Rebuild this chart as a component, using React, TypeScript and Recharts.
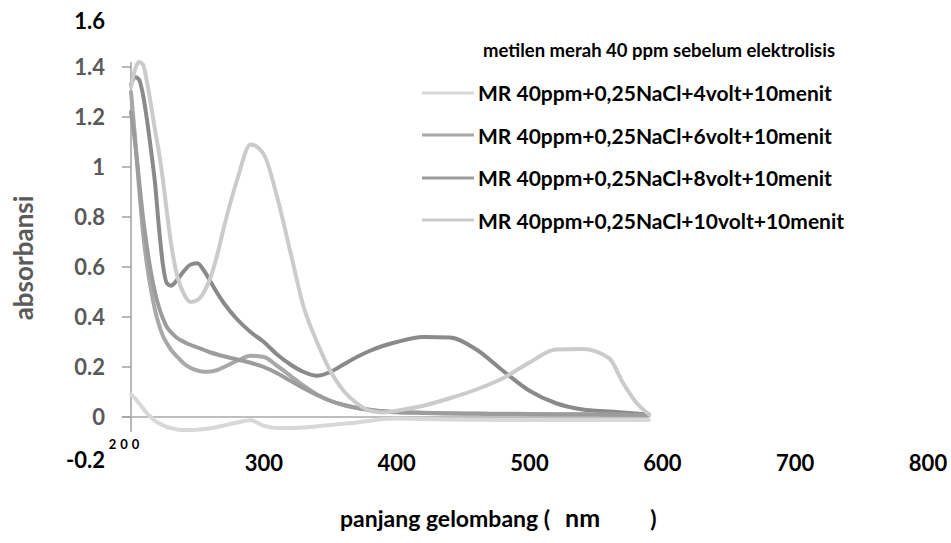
import { LineChart, Line, XAxis, YAxis, Legend, ReferenceLine } from 'recharts';

const FONT = 'Lato, "Open Sans", sans-serif';

// wavelength grid (nm)
const wavelengths = [
  200, 203, 206, 209, 212, 215, 218, 221, 224, 227, 230,
  235, 240, 245, 250, 255, 260, 265, 270,
  280, 290, 300, 310, 320, 330, 340, 350, 360, 370, 380, 390, 400,
  420, 440, 460, 480, 500, 520, 540, 560, 570, 580, 590,
];

const sebelum = [
  1.33, 1.36, 1.35, 1.29, 1.19, 1.07, 0.94, 0.76, 0.61, 0.535, 0.525,
  0.55, 0.585, 0.61, 0.615, 0.585, 0.54, 0.495, 0.455,
  0.39, 0.34, 0.3, 0.25, 0.21, 0.18, 0.165, 0.18, 0.21, 0.24, 0.265, 0.285, 0.3,
  0.32, 0.318, 0.27, 0.185, 0.105, 0.055, 0.03, 0.022, 0.018, 0.014, 0.01,
];

const volt4 = [
  0.09, 0.075, 0.055, 0.035, 0.015, 0, -0.015, -0.025, -0.033, -0.04, -0.044,
  -0.05, -0.052, -0.052, -0.051, -0.048, -0.045, -0.04, -0.034,
  -0.022, -0.013, -0.035, -0.044, -0.044, -0.042, -0.037, -0.032, -0.027, -0.022, -0.015, -0.008, -0.006,
  -0.008, -0.01, -0.011, -0.012, -0.012, -0.012, -0.012, -0.012, -0.012, -0.012, -0.012,
];

const volt6 = [
  1.3, 1.12, 0.92, 0.74, 0.61, 0.51, 0.43, 0.37, 0.325, 0.295, 0.27,
  0.24, 0.213, 0.196, 0.186, 0.181, 0.182, 0.188, 0.2,
  0.225, 0.245, 0.24, 0.205, 0.165, 0.125, 0.09, 0.065, 0.048, 0.036, 0.028, 0.022, 0.019,
  0.016, 0.014, 0.013, 0.012, 0.011, 0.01, 0.01, 0.009, 0.009, 0.008, 0.008,
];

const volt8 = [
  1.22, 1.1, 0.95, 0.8, 0.68, 0.58, 0.5, 0.44, 0.395, 0.36, 0.34,
  0.315, 0.3, 0.288, 0.278, 0.268, 0.258, 0.25, 0.243,
  0.23, 0.217, 0.2, 0.175, 0.145, 0.115, 0.088, 0.065, 0.048, 0.037, 0.029, 0.023, 0.02,
  0.017, 0.015, 0.014, 0.013, 0.012, 0.011, 0.011, 0.01, 0.01, 0.009, 0.009,
];

const volt10 = [
  1.32, 1.39, 1.42, 1.41, 1.34, 1.25, 1.15, 1.06, 0.95, 0.82, 0.7,
  0.56, 0.49, 0.46, 0.468, 0.5, 0.56, 0.65, 0.76,
  0.95, 1.09, 1.05, 0.88, 0.66, 0.44, 0.3, 0.185, 0.105, 0.055, 0.025, 0.018, 0.025,
  0.045, 0.075, 0.11, 0.155, 0.218, 0.27, 0.272, 0.235, 0.14, 0.06, 0.01,
];

const seriesNames = [
  'metilen merah 40 ppm sebelum elektrolisis',
  'MR 40ppm+0,25NaCl+4volt+10menit',
  'MR 40ppm+0,25NaCl+6volt+10menit',
  'MR 40ppm+0,25NaCl+8volt+10menit',
  'MR 40ppm+0,25NaCl+10volt+10menit',
];
const seriesKeys = ['sebelum', 'v4', 'v6', 'v8', 'v10'];
const seriesColors = ['#8a8a8a', '#d8d8d8', '#a8a8a8', '#9c9c9c', '#cbcbcb'];

const xTicks = [200, 300, 400, 500, 600, 700, 800];
const yTicks = [-0.2, 0, 0.2, 0.4, 0.6, 0.8, 1, 1.2, 1.4, 1.6];

const data = wavelengths.map((nm, i) => ({
  nm,
  sebelum: sebelum[i],
  v4: volt4[i],
  v6: volt6[i],
  v8: volt8[i],
  v10: volt10[i],
}));

function XTick({ x, y, payload }: any) {
  if (payload.value === 200) {
    return (
      <text x={x - 5} y={y - 18} textAnchor="middle" fontSize={13} fontWeight={700}
        letterSpacing={4} fontFamily={FONT} fill="#000">
        200
      </text>
    );
  }
  return (
    <text x={x} y={y + 4} textAnchor="middle" fontSize={22} fontWeight={700}
      fontFamily={FONT} fill="#000">
      {payload.value}
    </text>
  );
}

function YTick({ x, y, payload }: any) {
  const v = payload.value;
  if (v === -0.2 || v === 1.6) {
    return (
      <text x={x - 26} y={v === 1.6 ? y + 12 : y + 1} textAnchor="end" fontSize={22}
        fontWeight={700} fontFamily={FONT} fill="#000">
        {String(v)}
      </text>
    );
  }
  return (
    <g>
      <line x1={x - 9} y1={y} x2={x} y2={y} stroke="#a0a0a0" strokeWidth={1.5} />
      <text x={x - 26} y={y + 8} textAnchor="end" fontSize={22} fontWeight={700}
        fontFamily={FONT} fill="#5a5a5a">
        {String(v)}
      </text>
    </g>
  );
}

function YLabel({ viewBox }: any) {
  const tx = viewBox.x - 38;
  const ty = viewBox.y + viewBox.height / 2 + 16;
  return (
    <text transform={`translate(${tx}, ${ty}) rotate(-90)`} textAnchor="middle"
      fontSize={26} fontWeight={700} fontFamily={FONT} fill="#5a5a5a">
      absorbansi
    </text>
  );
}

function XLabel({ viewBox }: any) {
  return (
    <text x={viewBox.x + 209} y={viewBox.y + 60} fontSize={23} fontWeight={700}
      fontFamily={FONT} fill="#000">
      <tspan>panjang gelombang (</tspan>
      <tspan dx={15} fontSize={25}>nm</tspan>
      <tspan dx={50}>)</tspan>
    </text>
  );
}

function LegendContent({ payload }: any) {
  const items = [...(payload || [])].sort(
    (a: any, b: any) => seriesNames.indexOf(a.value) - seriesNames.indexOf(b.value),
  );
  return (
    <div style={{ fontFamily: FONT, fontWeight: 700, color: '#000' }}>
      {items.map((entry: any, i: number) => (
        <div key={entry.value} style={{ display: 'flex', alignItems: 'center', height: 42.5 }}>
          <svg width={52} height={6} style={{ marginRight: 4, visibility: i === 0 ? 'hidden' : 'visible' }}>
            <line x1={0} y1={3} x2={52} y2={3} stroke={entry.color} strokeWidth={3} />
          </svg>
          <span style={{ fontSize: i === 0 ? 18.5 : 21, marginLeft: i === 0 ? 5 : 0, whiteSpace: 'nowrap' }}>
            {entry.value}
          </span>
        </div>
      ))}
    </div>
  );
}

export default function App() {
  return (
    <div style={{ width: 951, height: 543, boxSizing: 'border-box', padding: '8px 0 0 8px', background: '#fff' }}>
      <style>{'body { margin: 0; } .recharts-surface { overflow: visible; }'}</style>
      <LineChart
        width={943}
        height={527}
        data={data}
        margin={{ top: 9, right: 23, left: 63, bottom: 38 }}
        style={{ fontFamily: FONT }}
      >
        <XAxis
          dataKey="nm"
          type="number"
          domain={[200, 800]}
          ticks={xTicks}
          axisLine={false}
          tickLine={false}
          tickSize={0}
          tickMargin={0}
          height={30}
          tick={<XTick />}
          interval={0}
          label={{ content: XLabel }}
        />
        <YAxis
          type="number"
          domain={[-0.2, 1.6]}
          ticks={yTicks}
          allowDataOverflow
          axisLine={false}
          tickLine={false}
          tickSize={0}
          tickMargin={0}
          width={60}
          tick={<YTick />}
          interval={0}
          label={{ content: YLabel }}
        />
        <ReferenceLine
          segment={[{ x: 200, y: -0.06 }, { x: 200, y: 1.42 }]}
          stroke="#a0a0a0"
          strokeWidth={1.5}
          ifOverflow="visible"
        />
        <ReferenceLine
          segment={[{ x: 193, y: 0 }, { x: 590, y: 0 }]}
          stroke="#a8a8a8"
          strokeWidth={1.5}
          ifOverflow="visible"
        />
        <Legend
          layout="vertical"
          align="center"
          verticalAlign="middle"
          wrapperStyle={{ top: 21, left: 414, width: 520 }}
          itemSorter={(item: any) => seriesNames.indexOf(item.value)}
          content={<LegendContent />}
        />
        {seriesKeys.map((k, i) => (
          <Line
            key={k}
            type="monotone"
            dataKey={k}
            name={seriesNames[i]}
            stroke={seriesColors[i]}
            strokeWidth={4}
            strokeLinecap="round"
            dot={false}
            activeDot={false}
            isAnimationActive={false}
          />
        ))}
      </LineChart>
    </div>
  );
}
